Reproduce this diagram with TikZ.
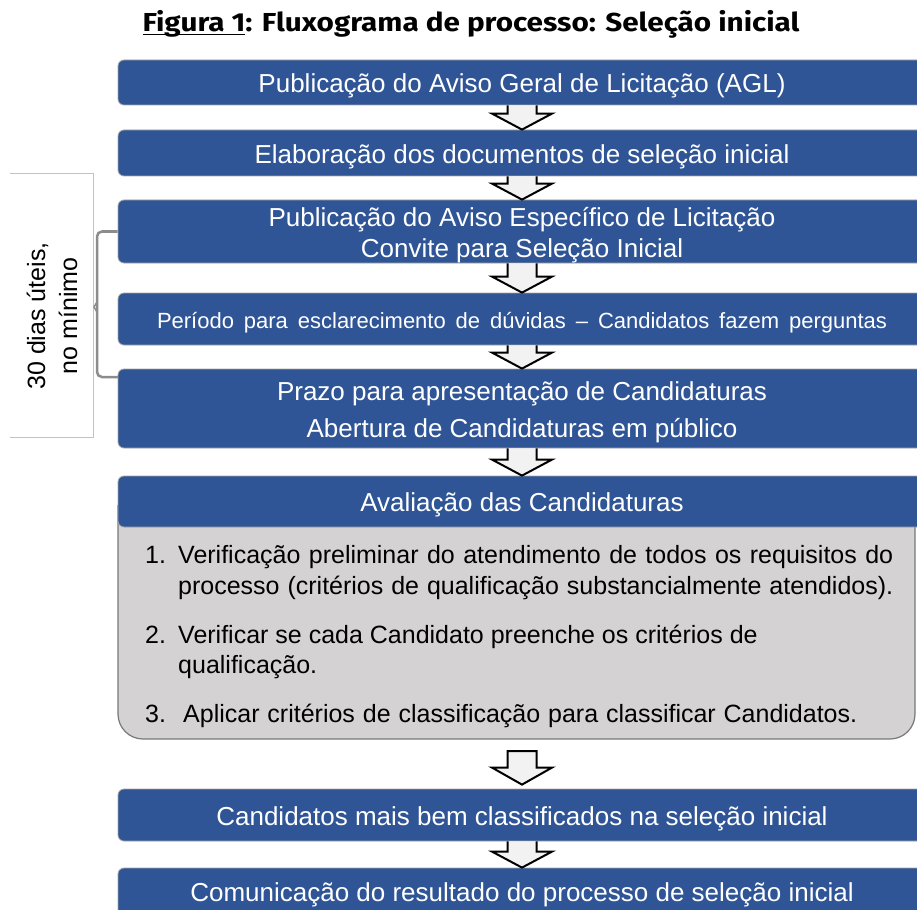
\documentclass[tikz,border=0pt]{standalone}
\usepackage{fontspec}
\setmainfont{Liberation Sans}
\newfontfamily\titlefont{Fira Sans}
\usepackage{graphicx}
\usetikzlibrary{calc}
\definecolor{boxblue}{RGB}{47,85,151}
\definecolor{bodygray}{RGB}{212,210,211}
\definecolor{edgegray}{RGB}{165,165,165}
\definecolor{arrfill}{RGB}{242,242,242}
\definecolor{brgray}{RGB}{140,140,140}
\definecolor{panelgray}{RGB}{195,195,195}
\definecolor{bodyedge}{RGB}{120,120,120}

\newcommand\thickul[1]{\setbox0\hbox{#1}\rlap{\rule[-3.5pt]{\wd0}{1.8pt}}\box0}
\newcommand\dropline[1]{\raisebox{-3.5pt}[\height][\depth]{#1}}

\tikzset{
  bluebox/.style={fill=boxblue, draw=edgegray, line width=0.8pt, rounded corners=6pt,
    text=white, minimum width=808pt, inner sep=0pt, align=center,
    font=\fontsize{26}{31}\selectfont},
  blockarr/.style={fill=arrfill, draw=black, line width=2pt, line join=miter},
  bodytext/.style={anchor=base west, inner sep=0pt, text=black,
    font=\fontsize{25}{30}\selectfont},
  bracketline/.style={draw=brgray, line width=2.5pt, rounded corners=5pt},
  panelline/.style={draw=panelgray, line width=1pt},
}

% open block arrow: shaft starts at a box edge
\newcommand\blockarrowopen[2]{%
  \filldraw[blockarr] let \p1=(#1), \p2=(#2) in
   (\x2-14.5pt,\y1) -- (\x2-14.5pt,\y2+16pt) -- (\x2-30pt,\y2+16pt) -- (\x2,\y2)
   -- (\x2+30pt,\y2+16pt) -- (\x2+14.5pt,\y2+16pt) -- (\x2+14.5pt,\y1);}
% closed block arrow
\newcommand\blockarrowclosed[2]{%
  \filldraw[blockarr] let \p1=(#1), \p2=(#2) in
   (\x2-14.5pt,\y1) -- (\x2-14.5pt,\y2+17pt) -- (\x2-30pt,\y2+17pt) -- (\x2,\y2)
   -- (\x2+30pt,\y2+17pt) -- (\x2+14.5pt,\y2+17pt) -- (\x2+14.5pt,\y1) -- cycle;}

\begin{document}
\begin{tikzpicture}[x=1pt, y=-1pt]
\useasboundingbox (0,0) rectangle (917,909);
\clip (0,0) rectangle (917,909);

% title
\node[anchor=base, inner sep=0pt] (title) at (471,32)
  {\titlefont\bfseries\fontsize{26}{30}\selectfont
   \resizebox{657pt}{\height}{\thickul{Figura 1}: Fluxograma de processo: Seleção inicial}};

% left panel
\draw[panelline] (10,174) -- (93,174) -- (93,437) -- (10,437);
\node[rotate=90, align=center, inner sep=0pt, font=\fontsize{25}{32}\selectfont] (lbl) at (52,316)
  {30 dias úteis,\\no mínimo};

% blue boxes
\node[bluebox, minimum height=45pt] (b1) at (522,82.5) {\dropline{Publicação do Aviso Geral de Licitação (AGL)}};
\node[bluebox, minimum height=46pt] (b2) at (522,153) {\dropline{Elaboração dos documentos de seleção inicial}};
\node[bluebox, minimum height=63pt] (b3) at (522,231.5) {\dropline{Publicação do Aviso Específico de Licitação}\\\dropline{Convite para Seleção Inicial}};
\node[bluebox, minimum height=52pt, font=\fontsize{22}{26}\selectfont] (b4) at (522,319)
  {\dropline{\makebox[730pt][s]{Período para esclarecimento de dúvidas – Candidatos fazem perguntas}}};
\node[bluebox, minimum height=79pt] (b5) at (522,408.5) {\dropline{Prazo para apresentação de Candidaturas}\\[6pt]\dropline{Abertura de Candidaturas em público}};

% evaluation box
\filldraw[fill=bodygray, draw=bodyedge, line width=1.2pt, rounded corners=25pt]
  (118,505) -- (118,739) -- (915,739) -- (915,505);
\node[bluebox, minimum height=51pt] (b6) at (522,501.5) {\dropline{Avaliação das Candidaturas}};
\coordinate (b6s) at (522,739);

\node[bodytext] (n1) at (145,563) {1.};
\node[bodytext] (t1a) at (178,563) {\makebox[715pt][s]{Verificação preliminar do atendimento de todos os requisitos do}};
\node[bodytext] (t1b) at (178,594) {\makebox[715pt][s]{processo (critérios de qualificação substancialmente atendidos).}};
\node[bodytext] (n2) at (145,643) {2.};
\node[bodytext] (t2a) at (178,643) {Verificar se cada Candidato preenche os critérios de};
\node[bodytext] (t2b) at (178,673) {qualificação.};
\node[bodytext] (n3) at (145,722) {3.};
\node[bodytext] (t3) at (183,722) {\makebox[674pt][s]{Aplicar critérios de classificação para classificar Candidatos.}};

\node[bluebox, minimum height=52pt] (b7) at (522,815) {\dropline{Candidatos mais bem classificados na seleção inicial}};
\node[bluebox, minimum height=60pt, text depth=0pt] (b8) at (522,898) {};
\node[inner sep=0pt, text=white, font=\fontsize{26}{31}\selectfont] (b8t) at (522,895)
  {Comunicação do resultado do processo de seleção inicial};

% arrows
\blockarrowopen{b1.south}{b2.north}
\blockarrowopen{b2.south}{b3.north}
\blockarrowopen{b3.south}{b4.north}
\blockarrowopen{b4.south}{b5.north}
\blockarrowopen{b5.south}{b6.north}
\blockarrowclosed{$(b6s)+(0,12)$}{$(b7.north)+(0,-4)$}
\blockarrowopen{b7.south}{b8.north}

% bracket
\coordinate (brB) at (118,377);
\draw[bracketline] (b3.west) -- (97,231.5) -- (97,377) -- (brB);
\draw[draw=brgray, line width=1.5pt] (97,302) -- (94,307) -- (97,312);
\end{tikzpicture}
\end{document}
